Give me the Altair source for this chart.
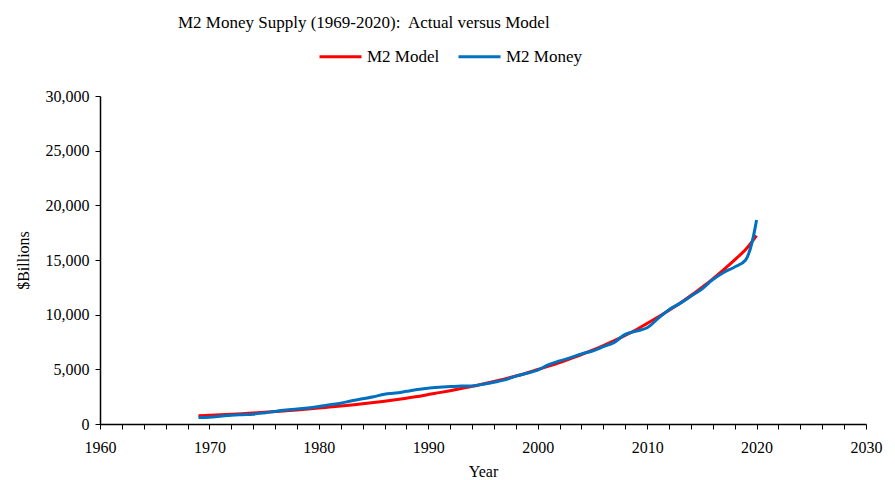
import altair as alt
import pandas as pd

years = list(range(1969, 2021))

m2_money = [587, 626, 710, 802, 856, 902, 1016, 1152, 1270, 1366, 1474, 1600, 1756, 1906, 2124,
            2306, 2492, 2728, 2826, 2988, 3152, 3272, 3372, 3424, 3474, 3486, 3629, 3818, 4033,
            4375, 4638, 4925, 5433, 5772, 6067, 6418, 6681, 7071, 7471, 8192, 8497, 8801, 9660,
            10459, 11035, 11684, 12346, 13212, 13858, 14366, 15000, 18650]

m2_model = [745, 790, 840, 890, 945, 1005, 1070, 1135, 1205, 1280, 1365, 1455, 1545, 1640, 1745,
            1855, 1970, 2090, 2220, 2360, 2510, 2700, 2870, 3050, 3240, 3440, 3660, 3890, 4130,
            4390, 4670, 4980, 5290, 5620, 5980, 6350, 6750, 7180, 7630, 8110, 8620, 9200, 9780,
            10400, 11050, 11750, 12500, 13280, 14120, 15010, 15960, 17230]

series_names = ["M2 Model", "M2 Money"]
series_colors = ["#FF0000", "#0070C0"]

rows = []
for y, v in zip(years, m2_model):
    rows.append({"Year": y, "Value": v, "Series": "M2 Model"})
for y, v in zip(years, m2_money):
    rows.append({"Year": y, "Value": v, "Series": "M2 Money"})
df = pd.DataFrame(rows)

FONT = "Liberation Serif"

chart = alt.Chart(df).mark_line(strokeWidth=3, interpolate="catmull-rom").encode(
    x=alt.X("Year:Q",
            scale=alt.Scale(domain=[1960, 2030], nice=False, zero=False),
            axis=alt.Axis(values=list(range(1960, 2031, 2)),
                          labelExpr="datum.value % 10 == 0 ? datum.value : ''",
                          labelFlush=False,
                          title="Year", grid=False, tickSize=5, labelPadding=10,
                          titlePadding=8)),
    y=alt.Y("Value:Q",
            scale=alt.Scale(domain=[0, 30000], nice=False),
            axis=alt.Axis(values=list(range(0, 30001, 5000)), format=",.0f",
                          labelFlush=False,
                          title="$Billions", grid=False, tickSize=5, labelPadding=6,
                          titlePadding=14)),
    color=alt.Color("Series:N",
                    scale=alt.Scale(domain=series_names, range=series_colors),
                    legend=alt.Legend(title=None, orient="none", direction="horizontal",
                                      legendX=218, legendY=-62, symbolType="stroke",
                                      symbolSize=1764, symbolStrokeWidth=3,
                                      columnPadding=12, labelOffset=4)),
    order=alt.Order("Series:N", sort="ascending"),
).properties(
    width=766,
    height=328,
    autosize=alt.AutoSizeParams(type="none"),
    padding={"left": 92, "top": 88, "right": 20, "bottom": 56},
    title=alt.TitleParams("M2 Money Supply (1969-2020):\u00a0 Actual versus Model",
                          anchor="start", frame="group", dx=78, dy=18, offset=20,
                          fontSize=17, fontWeight="normal", font=FONT, color="black"),
).configure_view(stroke=None).configure_axis(
    labelFont=FONT, titleFont=FONT, labelFontSize=16, titleFontSize=16,
    titleFontWeight="normal", labelColor="black", titleColor="black",
    domainColor="black", tickColor="black", domainWidth=1.5,
).configure_legend(labelFont=FONT, labelFontSize=17, labelColor="black")

chart.save("out.html", embed_options={"renderer": "svg", "actions": False})
